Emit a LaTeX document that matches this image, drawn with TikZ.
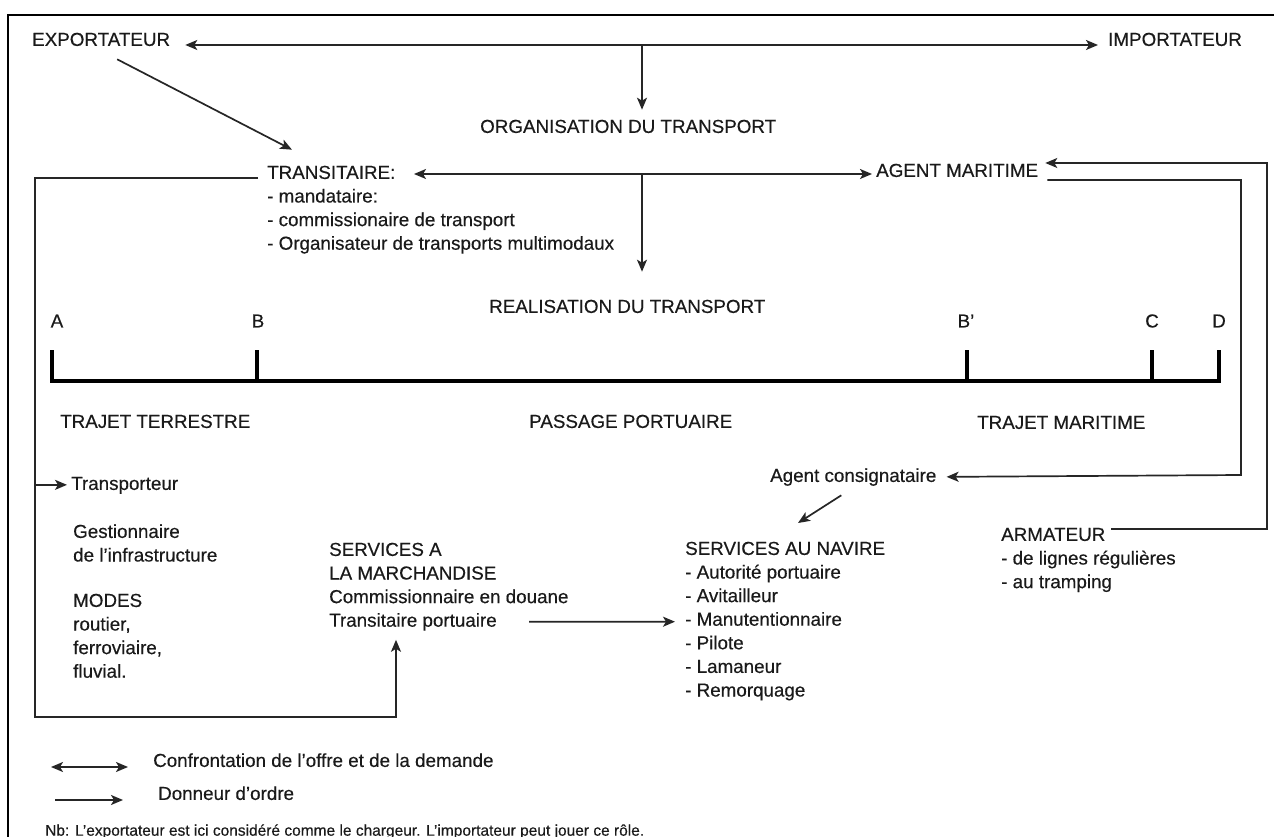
\documentclass[tikz,border=0pt]{standalone}
\usepackage{fontspec}
\setmainfont{Liberation Sans}[FakeBold=0.35]
\usetikzlibrary{arrows.meta,calc}
\definecolor{ink}{HTML}{1A1A1A}
\definecolor{wire}{HTML}{262626}
% invisible strut fixing the top of every text block at cap height
\newcommand\capstr{\rule{0pt}{14pt}}
\begin{document}
\begin{tikzpicture}[x=1pt,y=-1pt,
  txt/.style={inner sep=0pt, anchor=north west, align=left, text=ink,
    font=\fontsize{18.8}{23.6}\selectfont},
  letter/.style={inner sep=0pt, text=ink, font=\fontsize{18.8}{23.6}\selectfont},
  link/.style={draw=wire, line width=1.7pt},
  order/.style={link, -{Stealth[length=12pt,width=10pt,inset=3pt]}},
  both/.style={link, {Stealth[length=12pt,width=10pt,inset=3pt]}-{Stealth[length=12pt,width=10pt,inset=3pt]}},
  scale bar/.style={draw=black, line width=3.8pt},
]
\useasboundingbox (0,0) rectangle (1274,837);
\fill[white] (0,0) rectangle (1274,837);

% frame (top and left edges)
\draw[line width=1.8pt, draw=black] (8,837) -- (8,15) -- (1274,15);

% ---------- actors ----------
\node[txt] (exp) at (32,31.7) {\capstr EXPORTATEUR};
\node[txt] (imp) at (1108,31.7) {\capstr IMPORTATEUR};
\node[txt] (org) at (480,118.7) {\capstr ORGANISATION DU TRANSPORT};
\node[txt] (tra) at (267,164.7) {\capstr TRANSITAIRE:\\- mandataire:\\- commissionaire de transport\\- Organisateur de transports multimodaux};
\node[txt] (agm) at (876,162.7) {\capstr AGENT MARITIME};
\node[txt] (rea) at (489,298.7) {\capstr REALISATION DU TRANSPORT};

% ---------- route with its stages ----------
\node[letter] (la) at (57,321) {A};
\node[letter] (lb) at (258,321) {B};
\node[letter] (lbp) at (966,321) {B'};
\node[letter] (lc) at (1152,321) {C};
\node[letter] (ld) at (1219,321) {D};
\draw[scale bar] (52,350) -- (52,381) -- (1219,381) -- (1219,350);
\draw[scale bar] (257,381) -- (257,350);
\draw[scale bar] (967,381) -- (967,350);
\draw[scale bar] (1152,381) -- (1152,350);

\node[txt] (tt) at (60,413.7) {\capstr TRAJET TERRESTRE};
\node[txt] (pp) at (529,413.7) {\capstr PASSAGE PORTUAIRE};
\node[txt] (tm) at (977,414.7) {\capstr TRAJET MARITIME};

% ---------- service providers ----------
\node[txt] (cons) at (770,467.7) {\capstr Agent consignataire};
\node[txt] (trp) at (71,475.7) {\capstr Transporteur};
\node[txt] (gest) at (73,523.7) {\capstr Gestionnaire\\de l'infrastructure};
\node[txt] (modes) at (73,592.7) {\capstr MODES\\routier,\\ferroviaire,\\fluvial.};
\node[txt] (smar) at (329,541.7) {\capstr SERVICES A\\LA MARCHANDISE\\Commissionnaire en douane\\Transitaire portuaire};
\node[txt] (snav) at (685,540.7) {\capstr SERVICES AU NAVIRE\\- Autorité portuaire\\- Avitailleur\\- Manutentionnaire\\- Pilote\\- Lamaneur\\- Remorquage};
\node[txt] (arm) at (1001,526.7) {\capstr ARMATEUR\\- de lignes régulières\\- au tramping};

% ---------- legend ----------
\node[txt] (lg1) at (153,752.7) {\capstr Confrontation de l'offre et de la demande};
\node[txt] (lg2) at (158,785.7) {\capstr Donneur d'ordre};
\node[txt, font=\fontsize{15.5}{18}\selectfont] (nb) at (45,821.5)
  {\capstr Nb: L'exportateur est ici considéré comme le chargeur. L'importateur peut jouer ce rôle.};

% ---------- connectors ----------
\coordinate (m1) at (642,45);
\coordinate (m2) at (642,174);
\coordinate (lft) at (35,717);

\draw[both] ($(exp.east)+(15,6)$) -- ($(imp.west)+(-10,6)$);
\draw[order] (m1) -- ($(m1 |- org.north)+(0,-9)$);
\draw[order] ($(exp.south)+(16,13)$) -- ($(tra.north west)+(25,-15)$);
\draw[both] ($(tra.north west)+(147,9.3)$) -- ($(agm.west)+(-4,4)$);
\draw[order] (m2) -- ($(m2 |- rea.north)+(0,-27)$);

% forwarder orders the inland carrier and the cargo services
\draw[order] ($(tra.north west)+(-9,13)$) -| (lft) -| ($(smar.south west)+(67,9)$);
\draw[order] ($(trp.west)+(-36,0)$) -- ($(trp.west)+(-4,0)$);
\draw[order] ($(smar.south west)+(200,-9)$) -- ($(snav.north west)+(-10,81)$);

% shipping agent, ship's agent and shipowner
\draw[order] ($(agm.east)+(9,10)$) -- (1241,180) -- (1241,475) -- ($(cons.east)+(10,0)$);
\draw[order] ($(cons.south)+(-12,9.3)$) -- ($(snav.north west)+(113,-17.7)$);
\draw[order] ($(arm.north west)+(110,2.3)$) -- (1267,529) -- (1267,163) -- ($(agm.east)+(7,-7)$);

% legend arrows
\draw[both] ($(lg1.west)+(-102,7)$) -- ($(lg1.west)+(-25,7)$);
\draw[order] ($(lg2.west)+(-103,7)$) -- ($(lg2.west)+(-35,7)$);
\end{tikzpicture}
\end{document}
